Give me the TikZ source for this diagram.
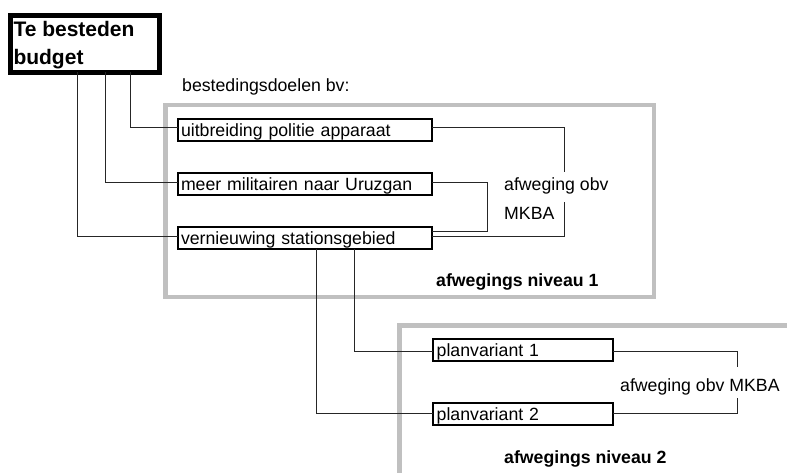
\documentclass[tikz,border=0pt]{standalone}
\usepackage{fontspec}
\setmainfont{Liberation Sans}
\definecolor{framegray}{HTML}{C0C0C0}
\begin{document}
\begin{tikzpicture}[x=1pt,y=-1pt,
  txt/.style={font=\fontsize{17.7}{21}\selectfont, inner sep=0pt, anchor=base west},
  btxt/.style={txt, font=\bfseries\fontsize{17.7}{21}\selectfont},
  headtxt/.style={inner sep=0pt, anchor=base west, font=\bfseries\fontsize{21}{27}\selectfont},
  optbox/.style={draw=black, line width=2.4pt, outer sep=0pt, inner ysep=0pt,
    text height=17.5pt, text depth=4.1pt, align=left,
    font=\fontsize{17.7}{21}\selectfont},
  wideopt/.style={optbox, inner xsep=2.8pt, text width=248pt},
  planopt/.style={optbox, inner xsep=3.5pt, text width=172.6pt},
  frame/.style={draw=framegray, line width=4.5pt},
  conn/.style={draw=black!85, line width=1pt}]
\useasboundingbox (0,0) rectangle (787,473);

% grey frames of the two decision levels
\draw[frame] (165.3,105) rectangle (654,297);
\draw[frame] (399.5,480) -- (399.5,325.5) -- (795,325.5);

% budget box
\node[draw=black, line width=5pt, outer sep=0pt, inner sep=0pt,
      minimum width=149pt, minimum height=57pt] (budget) at (85,44) {};
\node[headtxt] (budgetA) at (13.3,36.8) {Te besteden};
\node[headtxt] (budgetB) at (13.3,64.2) {budget};

\node[txt] (doelen) at (182,92) {bestedingsdoelen bv:};

% level 1 options
\node[wideopt] (b1) at (305,130) {uitbreiding politie apparaat};
\node[wideopt] (b2) at (305,184) {meer militairen naar Uruzgan};
\node[wideopt] (b3) at (305,238) {vernieuwing stationsgebied};

% level 2 options
\node[planopt] (pv1) at (523,350) {planvariant 1};
\node[planopt] (pv2) at (523,414) {planvariant 2};

% budget to the options
\draw[conn] ([xshift=45pt]budget.south) |- ([yshift=2pt]b1.west);
\draw[conn] ([xshift=20pt]budget.south) |- ([yshift=1pt]b2.west);
\draw[conn] ([xshift=-8pt]budget.south) |- ([yshift=1pt]b3.west);

% weighing brackets, level 1
\draw[conn] ([yshift=2pt]b1.east) -| ([xshift=132.2pt,yshift=1pt]b3.east) -- ([yshift=1pt]b3.east);
\draw[conn] ([yshift=1pt]b2.east) -| ([xshift=55.2pt,yshift=6pt]b3.east) -- ([yshift=6pt]b3.east);
\node[txt, fill=white, text height=19pt, text depth=11pt] (weeg1a) at (504,191) {afweging obv};
\node[txt] (weeg1b) at (504,220) {MKBA};
\node[btxt] (niveau1) at (436,286) {afwegings niveau 1};

% station area to its plan variants
\draw[conn] ([xshift=49pt]b3.south) |- ([yshift=-1pt]pv1.west);
\draw[conn] ([xshift=11pt]b3.south) |- ([yshift=1pt]pv2.west);

% weighing bracket, level 2
\draw[conn] ([yshift=-1pt]pv1.east) -| ([xshift=124.2pt,yshift=1pt]pv2.east) -- ([yshift=1pt]pv2.east);
\node[txt, fill=white, text height=24pt, text depth=7pt] (weeg2) at (620,391) {afweging obv MKBA};
\node[btxt] (niveau2) at (504,463) {afwegings niveau 2};
\end{tikzpicture}
\end{document}
